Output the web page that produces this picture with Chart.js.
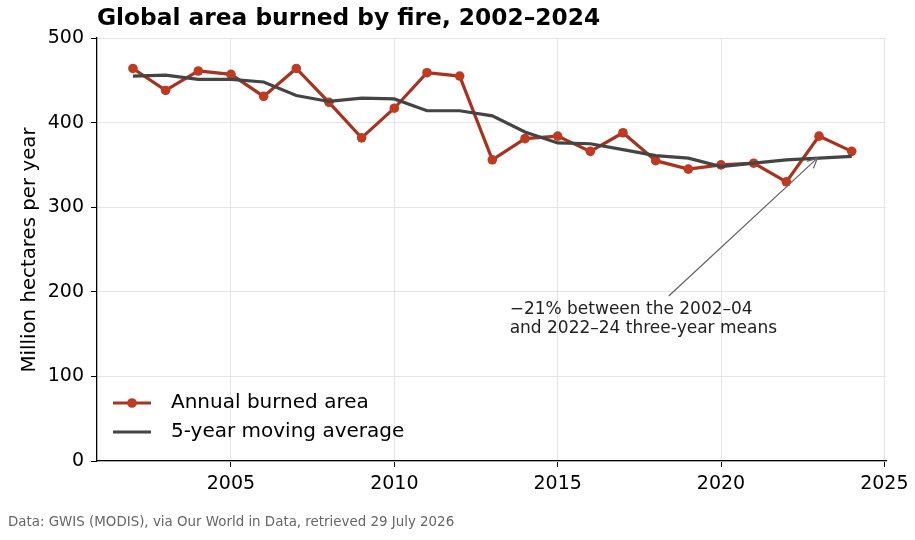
<!DOCTYPE html>
<html>
<head>
<meta charset="utf-8">
<script src="https://cdn.jsdelivr.net/npm/chart.js@4/dist/chart.umd.min.js"></script>
<style>
  body { margin: 0; background: #fff; }
  #wrap { width: 915px; height: 540px; position: relative; }
</style>
</head>
<body>
<div id="wrap"><canvas id="fire-chart"></canvas></div>
<script>
// data
const years = [2002, 2003, 2004, 2005, 2006, 2007, 2008, 2009, 2010, 2011, 2012, 2013,
               2014, 2015, 2016, 2017, 2018, 2019, 2020, 2021, 2022, 2023, 2024];
const annualBurned = [464, 438, 461, 457, 431, 464, 424, 382, 417, 459, 455, 356,
                      381, 384, 366, 388, 355, 345, 350, 352, 330, 384, 366];
const movingAvg = [455, 456, 451, 451, 448, 432, 425, 429, 428, 414, 414, 408,
                   389, 376, 375, 368, 361, 358, 348, 352, 356, 358, 360];
const xTicks = [2005, 2010, 2015, 2020, 2025];
const yTicks = [0, 100, 200, 300, 400, 500];

const FONT = "'DejaVu Sans', sans-serif";
const RED = '#a8321e';
const RED_FILL = '#c03a22';
const GREY = '#444444';

const toXY = (xs, ys) => xs.map((x, i) => ({ x: x, y: ys[i] }));

const extras = {
  id: 'extras',
  afterDraw(chart) {
    const ctx = chart.ctx;
    const xs = chart.scales.x, ys = chart.scales.y;
    ctx.save();

    // title
    ctx.fillStyle = '#000';
    ctx.font = "bold 23.3px " + FONT;
    ctx.textAlign = 'left';
    ctx.textBaseline = 'middle';
    ctx.fillText('Global area burned by fire, 2002\u20132024', 97, 19);

    // y axis label
    ctx.save();
    ctx.translate(30, 250);
    ctx.rotate(-Math.PI / 2);
    ctx.font = "19.8px " + FONT;
    ctx.textAlign = 'center';
    ctx.fillText('Million hectares per year', 0, 0);
    ctx.restore();

    // footer
    ctx.fillStyle = '#666';
    ctx.font = "13.4px " + FONT;
    ctx.textAlign = 'left';
    ctx.fillText('Data: GWIS (MODIS), via Our World in Data, retrieved 29 July 2026', 8, 523);

    // legend
    const items = [
      { label: 'Annual burned area', color: RED, marker: true, y: 403 },
      { label: '5-year moving average', color: GREY, marker: false, y: 432 }
    ];
    items.forEach(it => {
      ctx.strokeStyle = it.color;
      ctx.lineWidth = 3.2;
      ctx.beginPath();
      ctx.moveTo(113, it.y);
      ctx.lineTo(151, it.y);
      ctx.stroke();
      if (it.marker) {
        ctx.fillStyle = RED_FILL;
        ctx.beginPath();
        ctx.arc(132, it.y, 4.8, 0, Math.PI * 2);
        ctx.fill();
      }
      ctx.fillStyle = '#000';
      ctx.font = "20px " + FONT;
      ctx.fillText(it.label, 171, it.y);
    });

    // annotation + arrow
    const x0 = xs.getPixelForValue(2018.4), y0 = ys.getPixelForValue(195);
    const x1 = xs.getPixelForValue(2022.95), y1 = ys.getPixelForValue(358);
    ctx.strokeStyle = '#666';
    ctx.lineWidth = 1.3;
    ctx.beginPath();
    ctx.moveTo(x0, y0);
    ctx.lineTo(x1, y1);
    const a = Math.atan2(y1 - y0, x1 - x0);
    ctx.moveTo(x1 - 11 * Math.cos(a - 0.45), y1 - 11 * Math.sin(a - 0.45));
    ctx.lineTo(x1, y1);
    ctx.lineTo(x1 - 11 * Math.cos(a + 0.45), y1 - 11 * Math.sin(a + 0.45));
    ctx.stroke();

    ctx.fillStyle = '#222';
    ctx.font = "17px " + FONT;
    const tx = xs.getPixelForValue(2013.53);
    ctx.fillText('\u221221% between the 2002\u201304', tx, 310);
    ctx.fillText('and 2022\u201324 three-year means', tx, 329);

    ctx.restore();
  }
};

new Chart(document.getElementById('fire-chart'), {
  type: 'line',
  data: {
    datasets: [
      {
        label: '5-year moving average',
        data: toXY(years, movingAvg),
        borderColor: GREY,
        borderWidth: 3.2,
        pointRadius: 0,
        tension: 0,
        order: 0
      },
      {
        label: 'Annual burned area',
        data: toXY(years, annualBurned),
        borderColor: RED,
        backgroundColor: RED_FILL,
        borderWidth: 3.2,
        pointRadius: 4.8,
        pointBorderWidth: 0,
        pointBackgroundColor: RED_FILL,
        tension: 0,
        order: 1
      }
    ]
  },
  options: {
    responsive: true,
    maintainAspectRatio: false,
    animation: false,
    layout: { padding: { left: 0, top: 38, right: 29, bottom: 0 } },
    plugins: {
      legend: { display: false },
      title: { display: false },
      tooltip: { enabled: false }
    },
    scales: {
      x: {
        type: 'linear',
        min: 2000.9,
        max: 2025.05,
        afterBuildTicks: s => { s.ticks = xTicks.map(v => ({ value: v })); },
        afterFit: s => { s.height = 79; },
        grid: { color: '#e4e4e4', lineWidth: 1, tickColor: '#000', tickLength: 6 },
        border: { display: true, color: '#000', width: 1.3 },
        ticks: {
          color: '#000',
          font: { family: FONT, size: 19 },
          padding: 6,
          maxRotation: 0,
          callback: v => String(v)
        }
      },
      y: {
        min: 0,
        max: 500,
        afterBuildTicks: s => { s.ticks = yTicks.map(v => ({ value: v })); },
        afterFit: s => { s.width = 97; },
        grid: { color: '#e4e4e4', lineWidth: 1, tickColor: '#000', tickLength: 6 },
        border: { display: true, color: '#000', width: 1.3 },
        ticks: {
          color: '#000',
          font: { family: FONT, size: 19 },
          padding: 7,
          callback: v => String(v)
        }
      }
    }
  },
  plugins: [extras]
});
</script>
</body>
</html>
